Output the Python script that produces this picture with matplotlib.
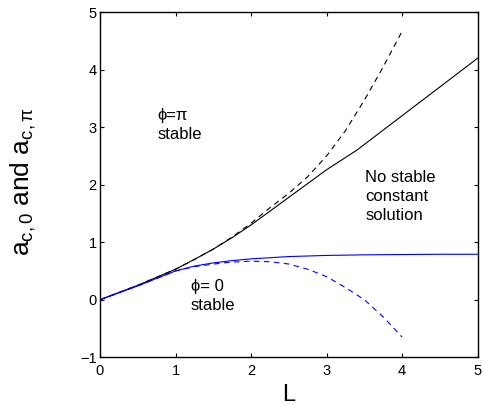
import matplotlib
matplotlib.use("Agg")
import matplotlib.pyplot as plt

# stable branches (solid) and unstable continuations (dashed)
L_pi = [0, 0.5, 1, 1.25, 1.5, 1.75, 2, 2.25, 2.5, 2.75, 3, 3.4, 4, 4.5, 5]
a_pi = [0, 0.25, 0.53, 0.7, 0.88, 1.08, 1.3, 1.54, 1.78, 2.02, 2.26, 2.6, 3.2, 3.7, 4.2]

L_pi_dash = [0, 0.5, 1, 1.25, 1.5, 1.75, 2, 2.25, 2.5, 2.75, 3, 3.25, 3.5, 3.75, 4]
a_pi_dash = [0, 0.25, 0.53, 0.7, 0.88, 1.09, 1.33, 1.6, 1.85, 2.14, 2.5, 2.94, 3.47, 4.05, 4.67]

L_0 = [0, 0.5, 1, 1.25, 1.5, 1.75, 2, 2.5, 3, 3.5, 4, 4.5, 5]
a_0 = [0, 0.24, 0.5, 0.585, 0.64, 0.68, 0.71, 0.75, 0.77, 0.78, 0.785, 0.79, 0.79]

L_0_dash = [0, 0.5, 1, 1.25, 1.5, 1.75, 2, 2.25, 2.5, 2.75, 3, 3.25, 3.5, 3.75, 4]
a_0_dash = [0, 0.24, 0.5, 0.575, 0.62, 0.655, 0.67, 0.66, 0.62, 0.53, 0.40, 0.21, 0.0, -0.30, -0.65]

xticks = [0, 1, 2, 3, 4, 5]
yticks = [-1, 0, 1, 2, 3, 4, 5]
ytick_labels = ['\u22121', '0', '1', '2', '3', '4', '5']

plt.rcParams['font.family'] = ['Liberation Sans', 'DejaVu Sans']
plt.rcParams['mathtext.fontset'] = 'custom'
plt.rcParams['mathtext.rm'] = 'Liberation Sans'
plt.rcParams['mathtext.it'] = 'Liberation Sans'

fig = plt.figure(figsize=(4.83, 4.05), dpi=100)
ax = fig.add_axes([0.207, 0.118, 0.782, 0.852])

ax.plot(L_pi_dash, a_pi_dash, 'k--', lw=0.8, dashes=(5, 4))
ax.plot(L_pi, a_pi, 'k-', lw=0.8)
ax.plot(L_0_dash, a_0_dash, '--', color='#0000ff', lw=0.8, dashes=(5, 4))
ax.plot(L_0, a_0, '-', color='#0000ff', lw=0.8)

ax.set_xlim(0, 5)
ax.set_ylim(-1, 5)
ax.set_xticks(xticks)
ax.set_yticks(yticks)
ax.set_yticklabels(ytick_labels)
ax.tick_params(direction='in', length=3, width=0.8, labelsize=10.5,
               top=True, right=True)
ax.tick_params(axis='x', pad=5)
ax.tick_params(axis='y', pad=2.5)
for s in ax.spines.values():
    s.set_linewidth(1.0)

# axis labels placed in figure coordinates
fig.text(0.598, 0.010, 'L', fontsize=17, ha='center', va='baseline')
fig.text(0.048, 0.552, r'a$_{\mathregular{c,0}}$ and a$_{\mathregular{c,\pi}}$',
         fontsize=19, rotation=90, ha='center', va='center')

# region labels, y is the baseline of the last line
txt = dict(fontsize=12, ha='left', va='baseline', linespacing=1.35)
ax.text(0.76, 2.79, '\u03d5=\u03c0\nstable', **txt)
ax.text(1.2, -0.18, '\u03d5= 0\nstable', **txt)
ax.text(3.51, 1.38, 'No stable\nconstant\nsolution', **txt)

fig.savefig('out.png', dpi=100)
